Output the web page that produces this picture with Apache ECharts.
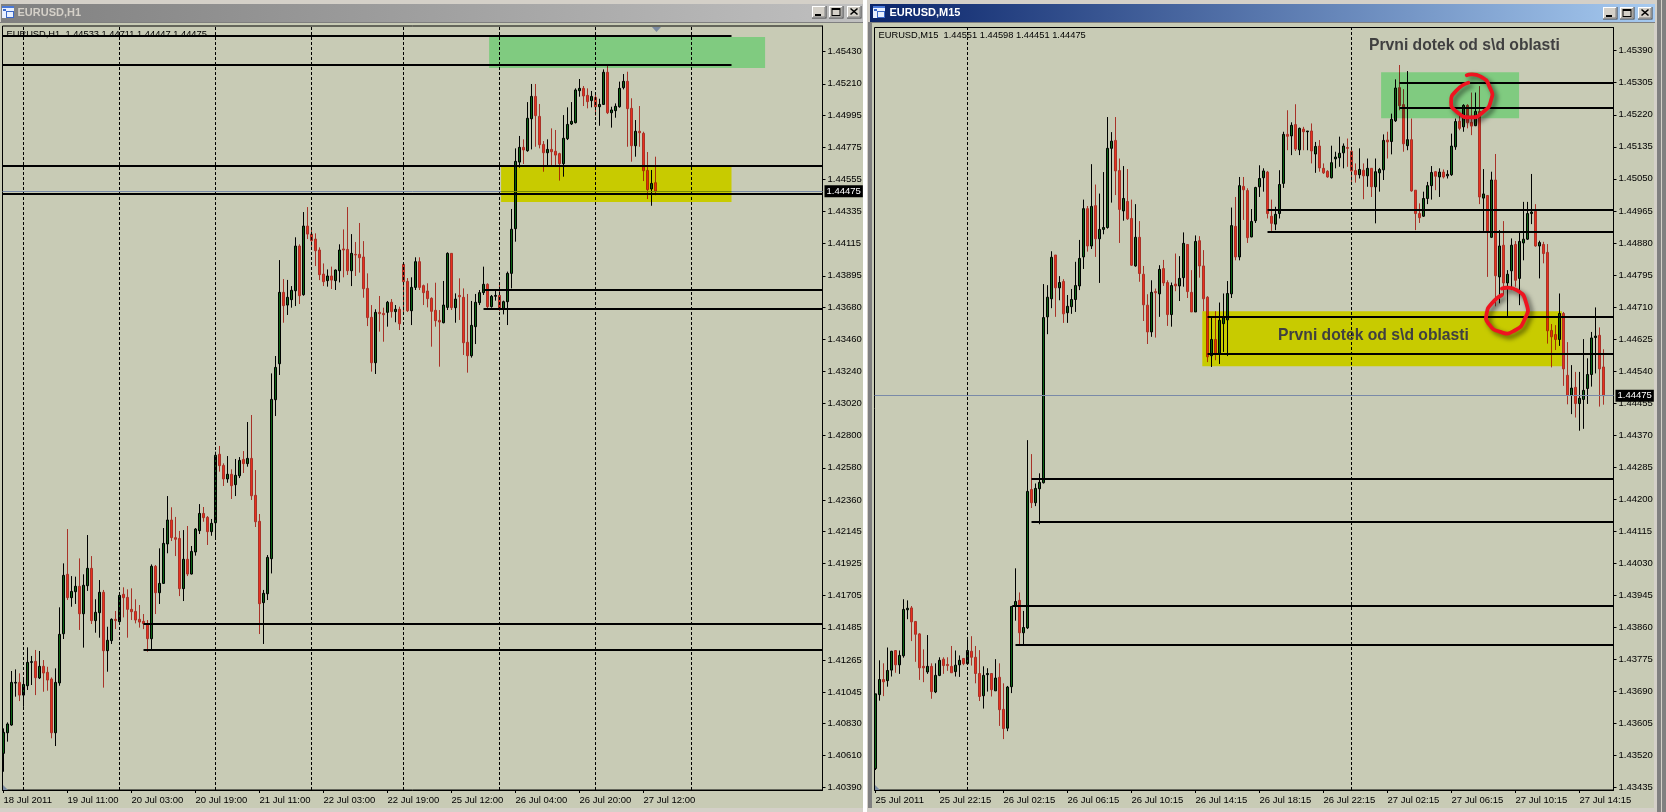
<!DOCTYPE html>
<html><head><meta charset="utf-8">
<style>html,body{margin:0;padding:0;background:#d4d0c8;overflow:hidden}#c{width:1666px;height:812px}</style>
<script src="https://cdn.jsdelivr.net/npm/echarts@6/dist/echarts.min.js"></script></head>
<body><div id="c"></div>
<script>
// prices in points (1/100000), rows are open, high, low, close
const h1Ohlc = [
[140625,140796,140499,140769],[140766,140837,140705,140826],[140819,141189,140814,141111],[141106,141200,141013,141111],
[141111,141173,140983,141024],[141024,141127,140944,141097],[141088,141351,141059,141248],[141248,141292,141093,141253],
[141255,141333,141024,141143],[141141,141326,141134,141221],[141221,141264,141047,141175],[141180,141218,141054,141127],
[141134,141145,140728,140766],[140766,141207,140675,141111],[141107,141625,141088,141440],[141444,141926,141408,141844],
[141851,142161,141675,141691],[141691,141839,141629,141734],[141732,141835,141648,141769],[141769,141960,141470,141581],
[141581,141851,141349,141776],[141773,142120,141737,141892],[141892,141976,141511,141534],[141534,141680,141451,141591],
[141588,141812,141417,141728],[141728,141744,141075,141328],[141328,141492,141184,141399],[141397,141549,141374,141543],
[141543,141600,141476,141534],[141527,141709,141515,141707],[141714,141762,141556,141691],[141693,141748,141417,141611],
[141611,141755,141538,141595],[141597,141680,141515,141538],[141543,141641,141486,141524],[141529,141579,141476,141513],
[141511,141538,141321,141410],[141410,141919,141337,141906],[141906,141915,141579,141725],[141725,142029,141648,141789],
[141789,142168,141785,142063],[142059,142387,141995,142223],[142223,142310,142079,142102],[142102,142244,141976,142091],
[142097,142148,141702,141753],[141753,142154,141668,141954],[141954,142182,141839,141853],[141853,142045,141850,142008],
[142004,142168,141979,142161],[142150,142332,142127,142268],[142268,142312,142211,142239],[142241,142250,142052,142143],
[142143,142230,142115,142200],[142204,142691,142086,142666],[142673,142730,142554,142595],[142597,142611,142456,142504],
[142504,142661,142478,142536],[142536,142570,142367,142458],[142465,142641,142387,142529],[142526,142654,142510,142631],
[142638,142695,142545,142609],[142609,142894,142588,142645],[142645,142942,142360,142389],[142392,142565,142175,142211],
[142214,142264,141442,141650],[141657,141744,141374,141721],[141718,141983,141675,141967],[141958,143227,141857,143049],
[143047,143346,142935,143268],[143293,144003,143216,143782],[143782,143873,143574,143691],[143695,143867,143627,143748],
[143732,143825,143677,143796],[143793,144159,143688,144099],[144099,144111,143702,143759],[143766,144332,143759,144236],
[144236,144366,144147,144181],[144181,144222,144095,144136],[144147,144186,143962,144067],[144072,144090,143866,143903],
[143907,143980,143825,143855],[143862,143939,143821,143894],[143894,143958,143805,143866],[143862,143939,143798,143935],
[143930,144111,143850,144072],[144079,144213,143885,144072],[144076,144366,143901,143930],[143930,144181,143825,144049],
[144042,144127,143894,144038],[144042,144257,143917,144019],[144024,144133,143745,143807],[143809,143912,143551,143609],
[143611,143695,143239,143300],[143300,143666,143223,143645],[143645,143757,143513,143636],[143638,143677,143444,143629],
[143645,143723,143547,143714],[143714,143736,143609,143650],[143650,143695,143577,143666],[143666,143684,143524,143567],
[143974,143974,143638,143855],[143857,143880,143647,143656],[143656,143885,143558,143816],[143816,144022,143798,143992],
[143992,144022,143798,143816],[143828,143835,143695,143780],[143791,143844,143679,143739],[143741,143748,143410,143652],
[143659,143848,143547,143588],[143590,143661,143273,143579],[143574,143860,143570,143695],[143679,144056,143661,144049],
[144049,144049,143661,143677],[143677,143775,143574,143736],[143761,143878,143593,143752],[143748,143809,143353,143437],
[143440,143771,143232,143348],[143348,143723,143335,143556],[143547,143771,143428,143714],[143711,143798,143695,143780],
[143780,143958,143764,143837],[143837,143844,143668,143684],[143684,143764,143677,143755],[143755,143793,143725,143761],
[143761,143832,143656,143666],[143666,143725,143631,143718],[143718,143924,143558,143912],[143912,144353,143809,144214],
[144218,144768,144129,144679],[144674,144853,144636,144775],[144775,144830,144661,144757],[144752,145085,144745,144974],
[144971,145209,144761,145124],[145124,145209,144779,144992],[144987,145072,144768,144793],[144795,144818,144608,144738],
[144738,144830,144654,144761],[144761,144905,144654,144745],[144748,144894,144654,144722],[144732,144738,144547,144663],
[144663,144996,144574,144837],[144834,145049,144825,144932],[144935,145085,144928,144953],[144944,145179,144939,145168],
[145163,145243,145122,145179],[145179,145195,145058,145127],[145131,145179,145042,145088],[145095,145161,145049,145124],
[145117,145152,144992,145053],[145053,145108,144923,145069],[145069,145309,145065,145289],[145289,145332,145003,145012],
[145012,145053,144910,145031],[145026,145076,144978,145056],[145053,145225,145047,145179],[145184,145277,145172,145227],
[145227,145293,144779,145040],[145042,145111,144677,144786],[144786,144962,144711,144885],[144885,145058,144779,144875],
[144871,144882,144544,144615],[144617,144743,144421,144485],[144490,144620,144375,144528],[144533,144711,144447,144475]
];
const m15Ohlc = [
[143486,143684,143482,143684],[143682,143773,143666,143722],[143722,143765,143678,143716],[143719,143807,143703,143746],
[143747,143798,143730,143797],[143799,143800,143740,143761],[143761,143799,143737,143786],[143785,143935,143780,143908],
[143907,143932,143882,143911],[143912,143917,143824,143875],[143876,143877,143769,143842],[143843,143845,143721,143753],
[143757,143802,143715,143753],[143742,143840,143737,143757],[143757,143765,143671,143690],[143689,143765,143686,143733],
[143733,143781,143731,143773],[143776,143781,143737,143759],[143762,143781,143745,143759],[143757,143811,143740,143740],
[143743,143799,143730,143760],[143761,143786,143729,143773],[143778,143779,143760,143764],[143764,143829,143761,143799],
[143797,143837,143759,143781],[143781,143811,143712,143738],[143738,143800,143665,143677],[143679,143757,143645,143733],
[143735,143752,143690,143738],[143738,143738,143677,143695],[143692,143776,143692,143726],[143728,143765,143599,143642],
[143643,143712,143564,143592],[143593,143705,143585,143702],[143703,143917,143686,143916],[143917,144017,143878,143929],
[143932,143953,143815,143846],[143846,143904,143814,143860],[143859,144357,143856,144221],[144226,144320,144177,144191],
[144191,144242,144182,144229],[144228,144269,144134,144245],[144244,144771,144242,144682],[144684,144768,144638,144736],
[144732,144858,144707,144842],[144848,144848,144684,144761],[144761,144792,144728,144775],[144778,144784,144668,144692],
[144695,144742,144668,144712],[144711,144758,144692,144730],[144730,144830,144697,144767],[144766,144888,144755,144839],
[144843,144995,144811,144971],[144971,144978,144857,144872],[144872,145089,144864,144977],[144979,145035,144843,144891],
[144891,145011,144774,144916],[144916,145068,144903,144921],[144921,145214,144918,145131],[145131,145174,144987,145150],
[145152,145214,145007,145071],[145072,145104,144880,144969],[144965,145084,144939,144998],[144990,145076,144941,144944],
[144945,144995,144819,144821],[144819,144983,144817,144895],[144895,144938,144777,144799],[144797,144819,144673,144716],
[144715,144744,144612,144644],[144644,144781,144631,144749],[144751,144759,144629,144748],[144745,144821,144684,144810],
[144812,144835,144766,144774],[144775,144781,144660,144690],[144690,144775,144658,144767],[144771,144852,144752,144766],
[144766,144845,144726,144786],[144788,144908,144764,144879],[144876,144876,144734,144751],[144749,144808,144697,144697],
[144697,144900,144697,144884],[144886,144898,144788,144819],[144819,144861,144699,144732],[144736,144739,144564,144578],
[144581,144684,144551,144624],[144624,144699,144569,144587],[144587,144722,144559,144675],[144666,144746,144591,144682],
[144676,144779,144580,144746],[144745,144974,144734,144926],[144924,145002,144834,144843],[144843,145055,144834,145032],
[145030,145055,144941,145021],[145019,145025,144880,144894],[144896,144970,144895,144937],[144939,145029,144933,145027],
[145029,145086,145002,145051],[145053,145078,145016,145071],[145068,145071,144945,144958],[144951,144995,144912,144932],
[144930,144976,144914,144956],[144958,145073,144945,145035],[145038,145175,145026,145168],[145168,145232,145126,145163],
[145164,145200,145113,145192],[145194,145248,145124,145129],[145127,145186,145113,145184],[145182,145188,145126,145175],
[145175,145177,145126,145177],[145177,145197,145091,145124],[145116,145148,145066,145136],[145137,145153,145069,145079],
[145078,145091,145063,145066],[145070,145073,145053,145055],[145053,145138,145051,145093],[145103,145122,145078,145108],
[145106,145162,145082,145118],[145119,145144,145078,145137],[145133,145157,145082,145131],[145123,145135,145042,145071],
[145072,145091,145040,145061],[145061,145131,145051,145075],[145073,145091,144996,145058],[145058,145104,145029,145078],
[145078,145078,145002,145029],[145029,145104,144932,145069],[145066,145079,145016,145075],[145074,145168,145047,145152],
[145153,145175,145104,145148],[145149,145223,145115,145208],[145204,145314,145201,145291],[145292,145352,145232,145244],
[145247,145288,145122,145143],[145138,145336,145126,145154],[145154,145210,145016,145018],[145020,145020,144914,144958],
[144958,144985,144933,144947],[144951,145016,144949,144998],[144998,145042,144983,145032],[145032,145084,144995,145067],
[145069,145071,145020,145057],[145055,145078,145002,145068],[145068,145075,145051,145055],[145058,145073,145051,145062],
[145061,145170,145058,145137],[145135,145210,145127,145202],[145203,145219,145179,145184],[145188,145248,145175,145245],
[145245,145248,145184,145199],[145200,145279,145166,145190],[145191,145279,145190,145229],[145229,145296,144983,145002],
[144999,145076,144912,145010],[145006,145007,144790,144910],[144895,145069,144893,145047],[145047,145116,144712,144793],
[144790,144914,144720,144872],[144874,144938,144742,144774],[144774,144808,144686,144797],[144806,144892,144755,144874],
[144876,144885,144764,144781],[144786,144909,144715,144884],[144880,144989,144834,144890],[144890,144989,144888,144958],
[144958,145063,144930,144962],[144964,144983,144870,144872],[144872,144886,144786,144881],[144876,144883,144826,144852],
[144855,144877,144613,144647],[144648,144665,144550,144631],[144637,144662,144596,144624],[144624,144746,144607,144693],
[144693,144697,144501,144546],[144529,144617,144452,144476],[144476,144556,144426,144495],[144497,144538,144417,144454],
[144454,144538,144382,144468],[144465,144625,144387,144489],[144494,144574,144453,144531],[144531,144644,144499,144628],
[144629,144709,144534,144633],[144635,144656,144446,144546],[144551,144598,144451,144475]
];
const h1PriceTicks = ['1.45430','1.45210','1.44995','1.44775','1.44555','1.44335','1.44115','1.43895','1.43680','1.43460','1.43240','1.43020','1.42800','1.42580','1.42360','1.42145','1.41925','1.41705','1.41485','1.41265','1.41045','1.40830','1.40610','1.40390'];
const m15PriceTicks = ['1.45390','1.45305','1.45220','1.45135','1.45050','1.44965','1.44880','1.44795','1.44710','1.44625','1.44540','1.44455','1.44370','1.44285','1.44200','1.44115','1.44030','1.43945','1.43860','1.43775','1.43690','1.43605','1.43520','1.43435'];
const h1TimeLabels = ['18 Jul 2011','19 Jul 11:00','20 Jul 03:00','20 Jul 19:00','21 Jul 11:00','22 Jul 03:00','22 Jul 19:00','25 Jul 12:00','26 Jul 04:00','26 Jul 20:00','27 Jul 12:00'];
const m15TimeLabels = ['25 Jul 2011','25 Jul 22:15','26 Jul 02:15','26 Jul 06:15','26 Jul 10:15','26 Jul 14:15','26 Jul 18:15','26 Jul 22:15','27 Jul 02:15','27 Jul 06:15','27 Jul 10:15','27 Jul 14:15'];
const barsPerLabel = 16;
const h1DaySeparators = [5,29,53,77,100,124,148,172];
const m15DaySeparators = [23,119];
const bidPrice = 144475;
// horizontal levels: price, first bar, last bar (null = chart edge)
const h1Levels = [[145540,null,182],[145339,null,182],[144649,null,null],[144460,null,null],[143798,120,null],[143668,120,null],[141511,35,null],[141335,35,null]];
const m15Levels = [[145305,131,null],[145238,131,null],[144967,98,null],[144910,98,null],[144683,83,null],[144585,83,null],[144254,39,null],[144140,39,null],[143917,34.2,null],[143814,35,null]];
// supply and demand zones: first bar, last bar, top price, bottom price
const h1Zones = [[121.4,190.4,145531,145318,'#a3ffb5'],[124.4,182,144642,144400,'#ffff00']];
const m15Zones = [[126.4,160.9,145333,145211,'#a3ffb5'],[81.7,171.6,144699,144553,'#ffff00']];
// hand drawn red circles: bar, price
const circleTop = [[147.8,145325],[151.2,145322],[153.7,145290],[153.9,145259],[152,145228],[148.7,145213],[145.3,145228],[143.9,145254],[145.3,145285],[148.2,145305]];
const circleBottom = [[156.6,144759],[160.3,144755],[162.7,144720],[162.4,144680],[159.5,144646],[156.2,144644],[153.2,144667],[152.8,144693],[154.1,144720],[156.6,144742]];

// ECharts "color" is close>open; the reference paints rising bars green
const candleStyle = {color:'#0b6414',color0:'#e8301e',borderColor:'#000',borderColor0:'#a83228',borderColorDoji:'#000',borderWidth:1};
const axisFont = {fontFamily:'Liberation Sans',fontSize:9.5,color:'#000'};
const toPts = s => Math.round(parseFloat(s)*100000);
const fmtPrice = v => (v/100000).toFixed(5);

function panel(i, ohlc, priceTicks, timeLabels, separators, levels, zones, xMin, xMax, yMin, yMax, circles) {
  const tickIdx = timeLabels.map((_,n)=>n*barsPerLabel);
  const grid = i===0 ? {left:2.5,top:26,width:820,height:764} : {left:874.5,top:27.5,width:739,height:762.5};
  const xAxis = {gridIndex:i,type:'value',min:xMin,max:xMax,
    axisLine:{show:true,onZero:false,lineStyle:{color:'#000',width:1}},
    axisTick:{show:true,length:3,customValues:tickIdx,lineStyle:{color:'#000'}},
    axisLabel:Object.assign({show:true,customValues:tickIdx,margin:5,align:'left',hideOverlap:false,showMinLabel:true,showMaxLabel:true,
      formatter:v=>timeLabels[Math.round(v/barsPerLabel)]||''},axisFont),
    splitLine:{show:false}};
  const vals = priceTicks.map(toPts);
  const yAxis = {gridIndex:i,type:'value',position:'right',min:yMin,max:yMax,scale:true,
    axisLine:{show:true,onZero:false,lineStyle:{color:'#000',width:1}},
    axisTick:{show:true,length:3,customValues:vals,lineStyle:{color:'#000'}},
    axisLabel:Object.assign({show:true,customValues:vals,margin:5,hideOverlap:false,showMinLabel:true,showMaxLabel:true,formatter:fmtPrice},axisFont),
    splitLine:{show:false}};
  const lineData = separators.map(k=>({xAxis:k,lineStyle:{type:[3,2],width:1,color:'#000'},label:{show:false}}));
  levels.forEach(l=>lineData.push([{coord:[l[1]===null?xMin:l[1],l[0]],lineStyle:{type:'solid',width:2,color:'#000'},label:{show:false}},{coord:[l[2]===null?xMax:l[2],l[0]]}]));
  lineData.push({yAxis:bidPrice,lineStyle:{type:'solid',width:1,color:'#7a8aa8'},
    label:{show:true,position:'end',distance:2,formatter:fmtPrice(bidPrice),color:'#fff',backgroundColor:'#000',padding:[1,2,1,2],fontFamily:'Liberation Sans',fontSize:9.5}});
  const series = [
    {type:'candlestick',xAxisIndex:i,yAxisIndex:i,barWidth:2,animation:false,large:false,progressive:0,silent:true,
     itemStyle:candleStyle,
     data:ohlc.map((r,k)=>[k,r[0],r[3],r[2],r[1]]),
     markLine:{silent:true,symbol:'none',animation:false,precision:5,data:lineData}},
    {type:'custom',xAxisIndex:i,yAxisIndex:i,silent:true,animation:false,z:5,clip:true,blendMode:'multiply',
     data:zones.map(z=>[z[0],z[1],z[2],z[3]]),encode:{x:[0,1],y:[2,3]},
     renderItem:(p,api)=>{const a=api.coord([api.value(0),api.value(2)]),b=api.coord([api.value(1),api.value(3)]);
       return {type:'rect',shape:{x:a[0],y:a[1],width:b[0]-a[0],height:b[1]-a[1]},style:{fill:zones[p.dataIndex][4]}};}}
  ];
  if (circles) series.push({type:'custom',xAxisIndex:i,yAxisIndex:i,silent:true,animation:false,z:8,clip:false,
     data:circles.map(c=>c[0]),
     renderItem:(p,api)=>({type:'polyline',shape:{points:circles[p.dataIndex].map(c=>api.coord(c)),smooth:0.6},
       style:{fill:null,stroke:'#ee1420',lineWidth:3.8,lineCap:'round',shadowBlur:5,shadowColor:'rgba(0,0,0,0.6)',shadowOffsetX:3,shadowOffsetY:3}})});
  return {grid:Object.assign({show:true,backgroundColor:'#c8cbb5',borderColor:'#000',borderWidth:1},grid),xAxis,yAxis,series};
}
const pA = panel(0,h1Ohlc,h1PriceTicks,h1TimeLabels,h1DaySeparators,h1Levels,h1Zones,-0.25,204.75,140374,145606,null);
const pB = panel(1,m15Ohlc,m15PriceTicks,m15TimeLabels,m15DaySeparators,m15Levels,m15Zones,-0.25,184.5,143429,145451.5,[circleTop,circleBottom]);

const rect=(x,y,w,h,fill,z)=>({type:'rect',shape:{x,y,width:w,height:h},style:{fill},z:z===undefined?-10:z,silent:true});
const txt=(x,y,t,font,fill,z)=>({type:'text',x,y,style:{text:t,font,fill,textVerticalAlign:'middle',textBaseline:'middle'},z:z===undefined?20:z,silent:true});
const grad=(a,b)=>({type:'linear',x:0,y:0,x2:1,y2:0,colorStops:[{offset:0,color:a},{offset:1,color:b}]});
function btn(x,y,kind){
  const out=[rect(x,y,14.5,12.5,'#404040',1),rect(x,y,13.5,11.5,'#fff',2),rect(x+1,y+1,12.5,10.5,'#808080',3),rect(x+1,y+1,11.5,9.5,'#d4d0c8',4)];
  if(kind==='min') out.push(rect(x+3,y+8,6,2,'#000',5));
  if(kind==='max') {out.push(rect(x+2.5,y+2,9,8,'#000',5));out.push(rect(x+3.5,y+4,7,5,'#d4d0c8',6));}
  if(kind==='close'){out.push({type:'line',shape:{x1:x+3.5,y1:y+2.5,x2:x+10.5,y2:y+8.5},style:{stroke:'#000',lineWidth:1.6},z:5,silent:true});
    out.push({type:'line',shape:{x1:x+10.5,y1:y+2.5,x2:x+3.5,y2:y+8.5},style:{stroke:'#000',lineWidth:1.6},z:5,silent:true});}
  return out;
}
function icon(x,y){return [rect(x,y,12,12,'#e8f0ff',5),rect(x,y,12,2,'#4a78d8',6),rect(x+4,y+5,8,7,'#3a68c8',6),rect(x+5,y+6,6,5,'#e8f0ff',7),rect(x+1,y+3,3,2,'#3a68c8',7)];}
const tri=(pts,z)=>({type:'polygon',shape:{points:pts},style:{fill:'#7a8aa0'},z:z||15,silent:true});
const graphics=[
  rect(0,22,863,786,'#c8cbb5'),rect(872,22,782,786,'#c8cbb5'),
  rect(868,22,4,786,'#808080',-9),
  rect(863,0,4,812,'#ffffff',-9),
  rect(1,4,862,18,grad('#808080','#c0c0c0'),-9),
  rect(870,4,785,18,grad('#0a246a','#a6caf0'),-9),
  rect(0,22,863,1,'#808080',-8),rect(870,22,785,1,'#808080',-8),
  rect(1657,0,4,812,'#808080',-9),rect(1662,0,4,812,'#808080',-9),
  txt(17.5,12.5,'EURUSD,H1','bold 11px "Liberation Sans"','#d4d0c8'),
  txt(889.5,12.5,'EURUSD,M15','bold 11px "Liberation Sans"','#ffffff'),
  txt(6.5,34.5,'EURUSD,H1  1.44533 1.44711 1.44447 1.44475','9.3px "Liberation Sans"','#000'),
  txt(878.5,35,'EURUSD,M15  1.44551 1.44598 1.44451 1.44475','9.3px "Liberation Sans"','#000'),
  txt(1369,46,'Prvni dotek od s\\d oblasti','bold 15.7px "Liberation Sans"','#404040'),
  txt(1278,336,'Prvni dotek od s\\d oblasti','bold 15.7px "Liberation Sans"','#404040'),
  tri([[3,785],[8,790],[3,790]]),tri([[875,785],[880,790],[875,790]]),tri([[652,27],[661,27],[656.5,32]])
].concat(btn(812,6,'min'),btn(829,6,'max'),btn(847,6,'close'),btn(1603,7,'min'),btn(1620,7,'max'),btn(1638,7,'close'),icon(2,6),icon(873,6));

const chart = echarts.init(document.getElementById('c'),null,{renderer:'canvas',width:1666,height:812});
chart.setOption({animation:false,backgroundColor:'#d4d0c8',
  grid:[pA.grid,pB.grid],xAxis:[pA.xAxis,pB.xAxis],yAxis:[pA.yAxis,pB.yAxis],
  series:pA.series.concat(pB.series),graphic:{elements:graphics}});
</script></body></html>
